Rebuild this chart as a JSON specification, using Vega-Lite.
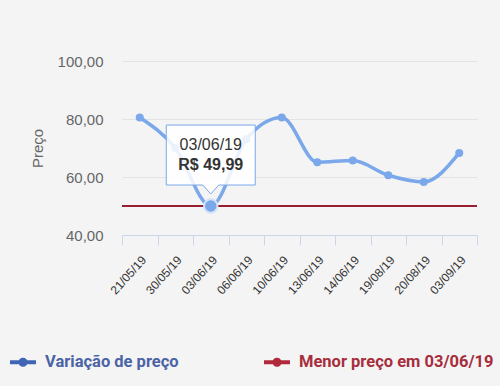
{
  "$schema": "https://vega.github.io/schema/vega-lite/v6.json",
  "width": 355,
  "height": 174,
  "autosize": {"type": "none"},
  "padding": {"left": 122, "top": 61, "right": 23, "bottom": 151},
  "background": "#f4f4f4",
  "config": {
    "view": {"stroke": null},
    "font": "Liberation Sans",
    "locale": {
      "number": {"decimal": ",", "thousands": ".", "grouping": [3], "currency": ["R$ ", ""]}
    }
  },
  "data": {
    "values": [
      {"data": "21/05/19", "preco": 80.5, "serie": "Variação de preço"},
      {"data": "30/05/19", "preco": 69.99, "serie": "Variação de preço"},
      {"data": "03/06/19", "preco": 49.99, "serie": "Variação de preço"},
      {"data": "06/06/19", "preco": 73.0, "serie": "Variação de preço"},
      {"data": "10/06/19", "preco": 80.5, "serie": "Variação de preço"},
      {"data": "13/06/19", "preco": 65.1, "serie": "Variação de preço"},
      {"data": "14/06/19", "preco": 65.7, "serie": "Variação de preço"},
      {"data": "19/08/19", "preco": 60.6, "serie": "Variação de preço"},
      {"data": "20/08/19", "preco": 58.3, "serie": "Variação de preço"},
      {"data": "03/09/19", "preco": 68.3, "serie": "Variação de preço"}
    ]
  },
  "encoding": {
    "x": {
      "field": "data",
      "type": "ordinal",
      "sort": null,
      "scale": {"paddingInner": 0, "paddingOuter": 0},
      "axis": {
        "title": null,
        "labelAngle": -48,
        "labelAlign": "right",
        "labelBaseline": "top",
        "labelFontSize": 12,
        "labelColor": "#333333",
        "labelPadding": 9,
        "domainColor": "#ccd6eb",
        "tickColor": "#ccd6eb",
        "tickSize": 10,
        "tickBand": "extent",
        "grid": false
      }
    },
    "y": {
      "field": "preco",
      "type": "quantitative",
      "scale": {"domain": [40, 100], "nice": false, "zero": false},
      "axis": {
        "title": "Preço",
        "values": [40, 60, 80, 100],
        "format": ",.2f",
        "labelFontSize": 15,
        "labelColor": "#666666",
        "labelPadding": 19,
        "ticks": false,
        "tickSize": 0,
        "domain": false,
        "gridColor": "#e3e3e3",
        "titleFontSize": 15,
        "titleFontWeight": "normal",
        "titleColor": "#666666",
        "titleX": -85,
        "titleY": 87,
        "titleAngle": -90,
        "titleAlign": "center",
        "titleBaseline": "middle"
      }
    }
  },
  "layer": [
    {
      "data": {"values": [{"preco": 49.99, "serie": "Menor preço em 03/06/19"}]},
      "mark": {"type": "rule", "strokeWidth": 2},
      "encoding": {
        "x": null,
        "y": {"field": "preco", "type": "quantitative"},
        "color": {
          "field": "serie",
          "type": "nominal",
          "scale": {
            "domain": ["Variação de preço", "Menor preço em 03/06/19"],
            "range": ["#7aa8eb", "#96202f"]
          },
          "legend": {
            "orient": "none",
            "legendX": -112,
            "legendY": 288,
            "direction": "horizontal",
            "columns": 2,
            "columnPadding": 85,
            "title": null,
            "symbolType": "M-1,-0.15H1V0.15H-1Z M0.35,0A0.35,0.35 0 1,1 -0.35,0A0.35,0.35 0 1,1 0.35,0Z",
            "symbolSize": 676,
            "symbolStrokeWidth": 0,
            "labelFont": "Roboto",
            "labelFontSize": 16.5,
            "labelFontWeight": "bold",
            "labelOffset": 9,
            "labelLimit": 400,
            "encode": {
              "labels": {"update": {"fill": {"signal": "datum.value === 'Variação de preço' ? '#4a63a6' : '#a72d3d'"}}},
              "symbols": {"update": {
                "fill": {"signal": "datum.value === 'Variação de preço' ? '#4065b4' : '#b02a3b'"},
                "stroke": {"signal": "datum.value === 'Variação de preço' ? '#4065b4' : '#b02a3b'"},
                "strokeWidth": {"value": 0},
                "opacity": {"value": 1}
              }}
            }
          }
        }
      }
    },
    {
      "mark": {"type": "line", "interpolate": "monotone", "strokeWidth": 3.5},
      "encoding": {
        "color": {"field": "serie", "type": "nominal"}
      }
    },
    {
      "mark": {"type": "point", "filled": true, "size": 64, "opacity": 1, "color": "#7aa8eb"}
    },
    {
      "transform": [{"filter": "datum.data == '03/06/19'"}],
      "mark": {"type": "point", "filled": true, "size": 180, "opacity": 1, "fill": "#7aa8eb", "stroke": "#d3e2f7", "strokeWidth": 2}
    },
    {
      "transform": [{"filter": "datum.data == '03/06/19'"}],
      "mark": {
        "type": "point",
        "shape": "M-1,-1.82H1V-0.472H0.18L0,-0.27L-0.18,-0.472H-1Z",
        "size": 7921,
        "filled": true,
        "fill": "#ffffff",
        "fillOpacity": 0.85,
        "stroke": "#7aa8eb",
        "strokeWidth": 1,
        "opacity": 1
      }
    },
    {
      "transform": [{"filter": "datum.data == '03/06/19'"}],
      "mark": {"type": "text", "dy": -61, "fontSize": 16, "color": "#333333", "baseline": "middle", "align": "center"},
      "encoding": {"text": {"field": "data"}}
    },
    {
      "transform": [{"filter": "datum.data == '03/06/19'"}],
      "mark": {"type": "text", "dy": -41, "fontSize": 16, "fontWeight": "bold", "color": "#333333", "baseline": "middle", "align": "center"},
      "encoding": {"text": {"field": "preco", "type": "quantitative", "format": "$.2f"}}
    }
  ]
}
